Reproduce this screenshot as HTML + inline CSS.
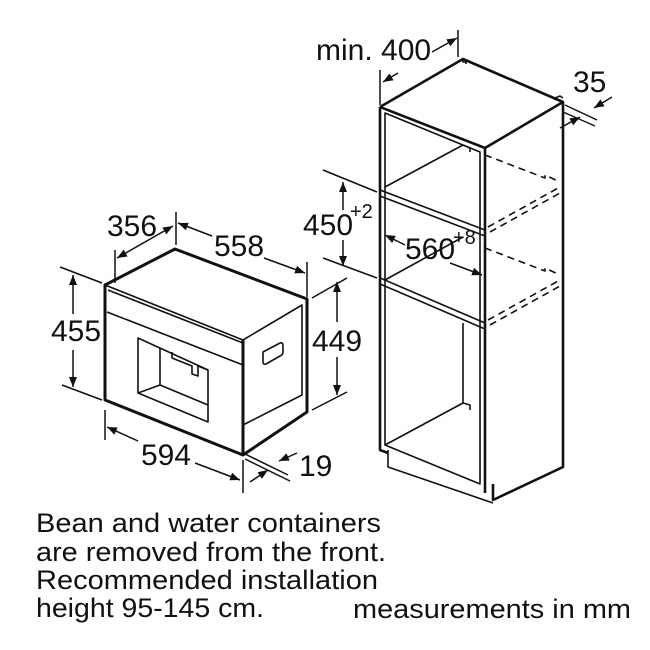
<!DOCTYPE html>
<html><head><meta charset="utf-8"><style>
html,body{margin:0;padding:0;background:#fff;}
svg{display:block;}
text{font-family:"Liberation Sans",Arial,sans-serif;fill:#111;}
</style></head><body>
<svg width="650" height="650" viewBox="0 0 650 650" xmlns="http://www.w3.org/2000/svg">
<defs>
<marker id="a" viewBox="0 0 10 10" refX="10" refY="5" markerWidth="10" markerHeight="10" orient="auto-start-reverse" markerUnits="userSpaceOnUse">
<path d="M0,1 L10,5 L0,9 Z" fill="#111"/></marker>
</defs>
<g stroke="#111" fill="none" stroke-linejoin="round">
<!-- Appliance -->
<g stroke-width="3">
<path d="M105,285 L175,249 L307,299 L307,412 L243,455 L105,400 Z"/>
<path d="M243,340 L243,455"/>
</g>
<g stroke-width="1.6">
<path d="M105,285 L243,340 L302,305 L302,395 L243,425"/>
<path d="M107,312 L243,365"/>
<path d="M108,290 L243,343"/>
<path d="M138,338 L208,370 L208,422 L138,393 Z"/>
<path d="M160,348 L160,385 L208,405"/>
<path d="M160,385 L138,393"/>
<path d="M172,352 L172,358 L192,366 L192,374 L198,376 L198,366 L208,370"/>
<path d="M263,352 L280,343 Q283,342 283,346 L283,352 Q283,355 280,356 L266,364 Q263,365 263,362 Z"/>
</g>
<!-- Appliance dims -->
<g stroke-width="1.5">
<path d="M115,250 L115,283"/><path d="M176,212 L176,245"/><path d="M307,262 L307,297"/>
<path d="M60,267 L102,283"/><path d="M62,385 L102,400"/>
<path d="M312,298 L347,278"/><path d="M312,410 L347,392"/>
<path d="M105,410 L105,440"/><path d="M243,460 L243,493"/>
<path d="M243,453 L288,475"/><path d="M245,459 L290,481"/>
<path d="M117,258 L173,226" marker-start="url(#a)" marker-end="url(#a)"/>
<path d="M178,223 L212,236" marker-start="url(#a)"/><path d="M264,258 L305,273" marker-end="url(#a)"/>
<path d="M73,275 L73,314" marker-start="url(#a)"/><path d="M73,350 L73,387" marker-end="url(#a)"/>
<path d="M337,282 L337,322" marker-start="url(#a)"/><path d="M337,357 L337,395" marker-end="url(#a)"/>
<path d="M107,427 L138,441" marker-start="url(#a)"/><path d="M195,463 L240,480" marker-end="url(#a)"/>
<path d="M297,453 L279,461" marker-end="url(#a)"/><path d="M250,482 L268,470" marker-end="url(#a)"/>
</g>
<!-- Cabinet -->
<g stroke-width="2.6">
<path d="M380,107 L463,59 L563,102 L563,467 L493,500 L493,484"/>
<path d="M380,107 L485,148 L563,102"/>
<path d="M380,107 L380,450 L388,453"/>
<path d="M485,148 L485,493"/>
</g>
<g stroke-width="1.6">
<path d="M385,113 L385,445 L480,484 L480,152 Z"/>
<path d="M388,450 L388,467 L493,503"/>
<path d="M380,190 L485,230"/><path d="M380,196 L485,236"/>
<path d="M380,278 L485,323"/><path d="M380,284 L485,329"/>
<path d="M385,187 L463,145"/><path d="M385,280 L463,237"/>
<path d="M385,445 L463,403"/><path d="M463,323 L463,403"/>
<path d="M463,145 L470,148 L470,152"/><path d="M463,403 L470,405 L470,410"/>
<path d="M463,59 L463,62 L466,62 L466,64"/><path d="M555,100 L555,98 L560,96 L563,98"/>
</g>
<g stroke-width="1.6" stroke-dasharray="7,5">
<path d="M485,155 L545,178 L545,175 L560,182"/>
<path d="M488,227 L560,187"/><path d="M490,232 L560,193"/>
<path d="M485,248 L545,271 L545,268 L560,275"/>
<path d="M488,320 L560,280"/><path d="M490,325 L560,286"/>
</g>
<!-- Cabinet dims -->
<g stroke-width="1.5">
<path d="M380,70 L380,105"/><path d="M458,30 L458,57"/>
<path d="M383,82 L398,73" marker-start="url(#a)"/><path d="M432,52 L457,38" marker-end="url(#a)"/>
<path d="M565,105 L597,120"/><path d="M563,112 L595,126"/>
<path d="M560,128 L580,117" marker-end="url(#a)"/><path d="M612,97 L594,108" marker-end="url(#a)"/>
<path d="M323,170 L377,192"/><path d="M323,258 L377,278"/>
<path d="M343,182 L343,210" marker-start="url(#a)"/><path d="M343,240 L343,266" marker-end="url(#a)"/>
<path d="M385,235 L405,245" marker-start="url(#a)"/><path d="M450,263 L482,275" marker-end="url(#a)"/>
</g>
</g>
<g font-size="30">
<text x="107" y="236">356</text>
<text x="214" y="256">558</text>
<text x="51" y="341">455</text>
<text x="312" y="351">449</text>
<text x="141" y="465">594</text>
<text x="299" y="476">19</text>
<text x="316" y="60">min. 400</text>
<text x="573" y="92">35</text>
<text x="303" y="235">450</text><text x="350" y="218" font-size="20">+2</text>
<text x="405" y="259">560</text><text x="453" y="244" font-size="20">+8</text>
</g>
<g font-size="27">
<text x="36" y="532" textLength="345" lengthAdjust="spacingAndGlyphs">Bean and water containers</text>
<text x="36" y="561" textLength="350" lengthAdjust="spacingAndGlyphs">are removed from the front.</text>
<text x="36" y="589" textLength="342" lengthAdjust="spacingAndGlyphs">Recommended installation</text>
<text x="36" y="617" textLength="228" lengthAdjust="spacingAndGlyphs">height 95-145 cm.</text>
<text x="353" y="618" textLength="278" lengthAdjust="spacingAndGlyphs">measurements in mm</text>
</g>
</svg>
</body></html>
